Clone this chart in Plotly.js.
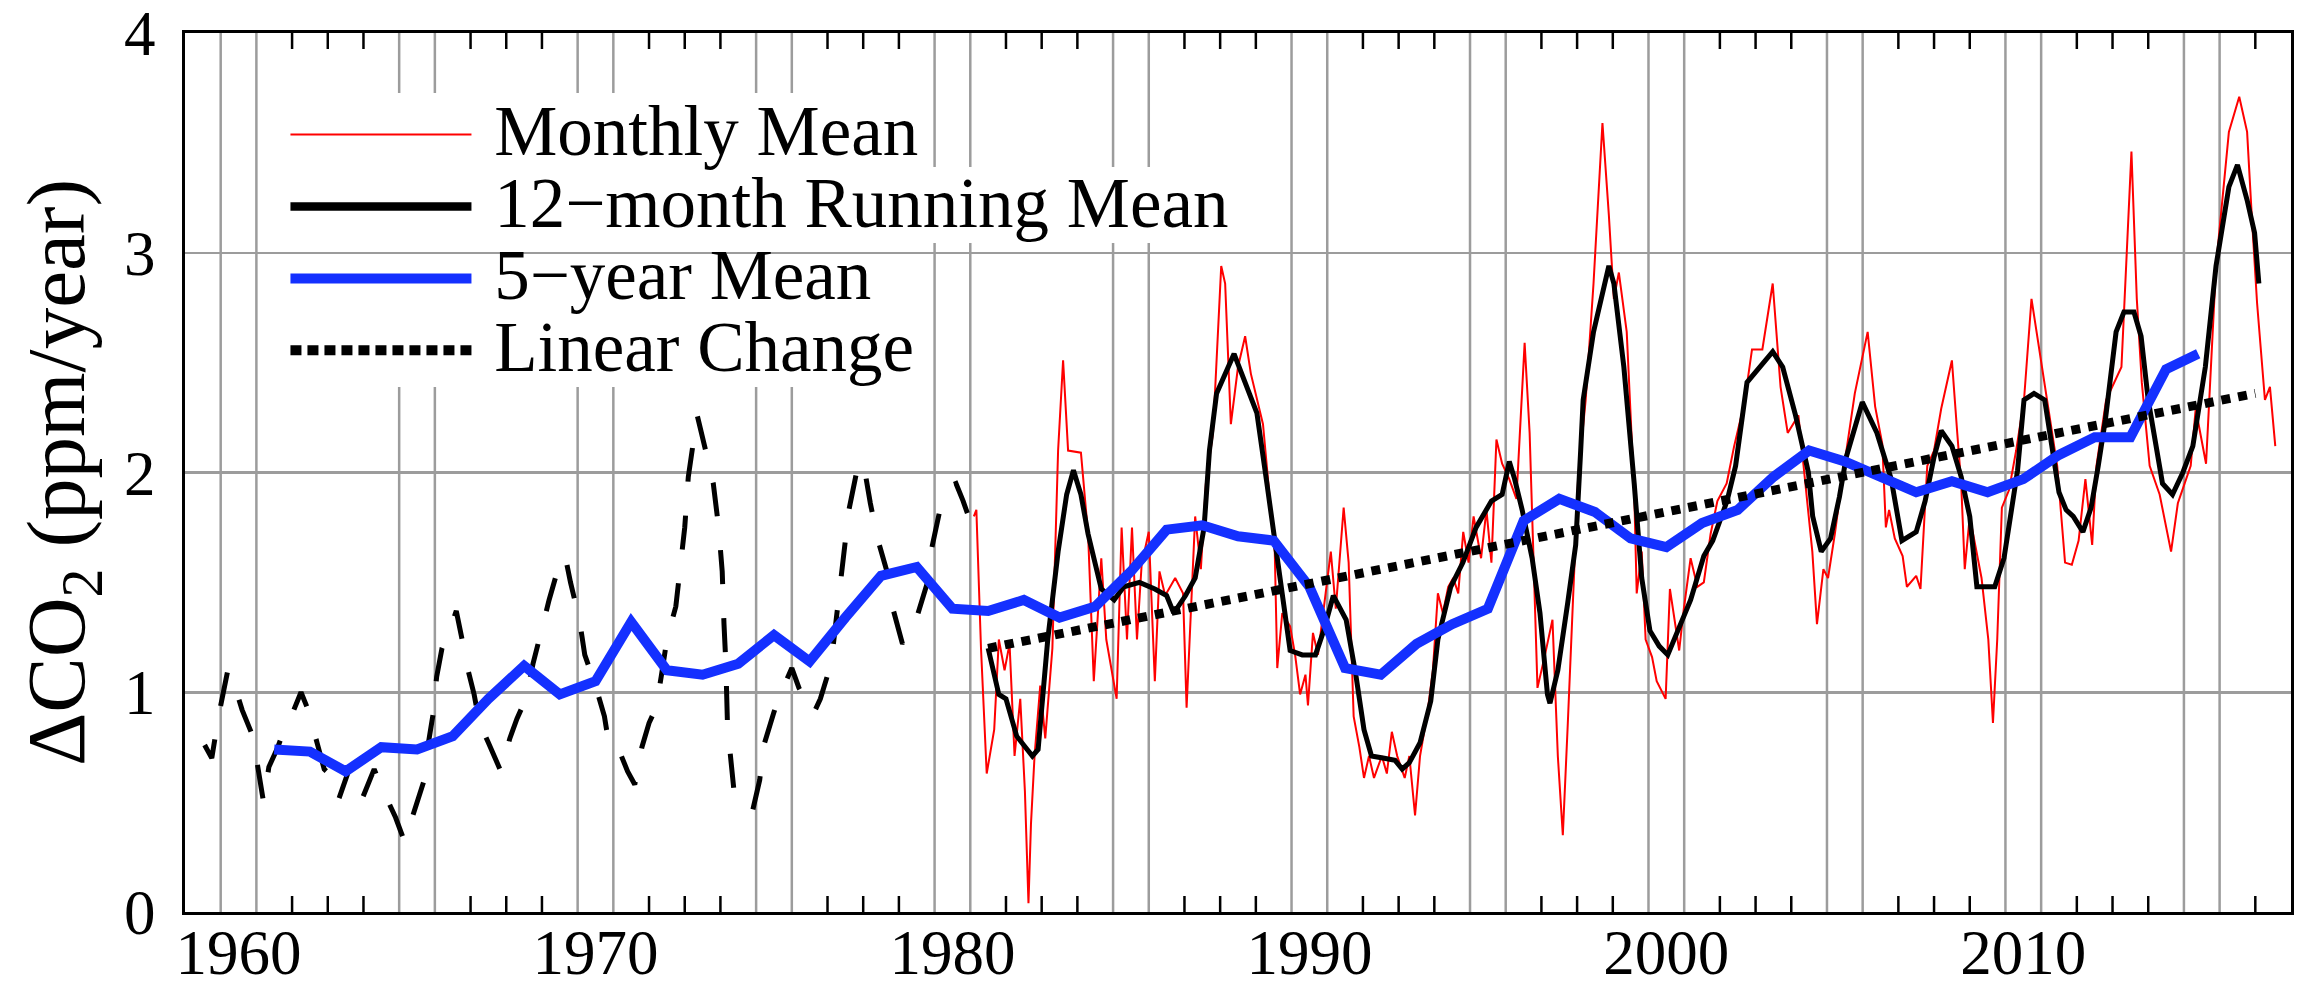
<!DOCTYPE html>
<html>
<head>
<meta charset="utf-8">
<script src="https://cdn.plot.ly/plotly-3.0.1.min.js"></script>
<style>
  html, body { margin: 0; padding: 0; background: #ffffff; }
  #chart { width: 2305px; height: 983px; }
</style>
</head>
<body>
<div id="chart"></div>
<script>
// Mauna Loa 12-month running mean of the annual CO2 increase (before 1981), ppm/year
const mloYears = [1959.55, 1959.75, 1959.95, 1960.2, 1960.35, 1960.6, 1960.9, 1961.1, 1961.2, 1961.35,
  1961.6, 1961.8, 1962.0, 1962.25, 1962.45, 1962.7, 1962.9, 1963.1, 1963.3, 1963.6, 1963.8, 1963.95,
  1964.3, 1964.5, 1964.9, 1965.15, 1965.4, 1965.7, 1965.8, 1965.95, 1966.05, 1966.2, 1966.45, 1966.6,
  1966.75, 1966.9, 1967.1, 1967.25, 1967.5, 1967.85, 1968.1, 1968.3, 1968.55, 1968.75, 1969.0, 1969.2,
  1969.5, 1969.65, 1969.8, 1970.05, 1970.2, 1970.5, 1970.75, 1970.9, 1971.2, 1971.4, 1971.6, 1971.8,
  1972.0, 1972.2, 1972.35, 1972.5, 1972.75, 1972.85, 1973.0, 1973.1, 1973.35, 1973.6, 1973.8, 1973.95,
  1974.05, 1974.1, 1974.15, 1974.2, 1974.3, 1974.4, 1974.7, 1974.9, 1975.1, 1975.2, 1975.5, 1975.7,
  1976.0, 1976.2, 1976.6, 1976.8, 1977.1, 1977.2, 1977.35, 1977.6, 1977.85, 1978.0, 1978.2, 1978.4,
  1978.7, 1978.8, 1979.1, 1979.5, 1979.8, 1979.9, 1980.15, 1980.45, 1980.6, 1980.8, 1981.1];
const mloRate = [0.76, 0.70, 0.90, 1.10, 1.05, 0.92, 0.80, 0.60, 0.50, 0.66,
  0.75, 0.84, 0.90, 1.00, 0.92, 0.77, 0.65, 0.62, 0.51, 0.65, 0.58, 0.51,
  0.65, 0.57, 0.43, 0.32, 0.44, 0.60, 0.75, 0.90, 1.07, 1.20, 1.30, 1.37,
  1.25, 1.12, 0.99, 0.86, 0.77, 0.64, 0.79, 0.88, 0.97, 1.13, 1.29, 1.42,
  1.59, 1.62, 1.50, 1.33, 1.17, 1.03, 0.89, 0.74, 0.72, 0.64, 0.58, 0.75,
  0.86, 0.93, 1.08, 1.24, 1.39, 1.52, 1.75, 1.98, 2.26, 2.09, 1.95, 1.75,
  1.55, 1.31, 1.14, 0.84, 0.69, 0.52, 0.48, 0.46, 0.60, 0.75, 0.91, 1.00,
  1.11, 1.02, 0.90, 0.97, 1.13, 1.28, 1.50, 1.83, 2.03, 2.05, 1.86, 1.70,
  1.53, 1.40, 1.22, 1.34, 1.50, 1.64, 1.83, 1.94, 1.95, 1.87, 1.73];

// Global monthly mean annual increase, ppm/year
const monthlyYears = [1981.10, 1981.17, 1981.30, 1981.46, 1981.67, 1981.80, 1981.96, 1982.10, 1982.24, 1982.40,
  1982.53, 1982.63, 1982.70, 1982.80, 1982.96, 1983.10, 1983.30, 1983.46, 1983.60, 1983.74,
  1984.10, 1984.30, 1984.46, 1984.67, 1984.81, 1985.10, 1985.24, 1985.39, 1985.53, 1985.67,
  1985.80, 1986.00, 1986.17, 1986.30, 1986.46, 1986.74, 1986.96, 1987.06, 1987.17, 1987.30,
  1987.46, 1987.60, 1987.80, 1988.03, 1988.14, 1988.30, 1988.50, 1988.70, 1988.86, 1989.20,
  1989.39, 1989.53, 1989.60, 1989.74, 1989.96, 1990.10, 1990.24, 1990.39, 1990.46, 1990.60,
  1990.74, 1990.96, 1991.10, 1991.24, 1991.46, 1991.60, 1991.74, 1991.90, 1992.03, 1992.17,
  1992.31, 1992.53, 1992.67, 1992.81, 1992.96, 1993.17, 1993.30, 1993.46, 1993.60, 1993.81,
  1993.96, 1994.10, 1994.24, 1994.39, 1994.53, 1994.67, 1994.81, 1994.96, 1995.10, 1995.31,
  1995.46, 1995.60, 1995.74, 1995.90, 1996.10, 1996.30, 1996.53, 1996.67, 1996.74, 1996.89,
  1997.10, 1997.31, 1997.46, 1997.60, 1997.74, 1997.89, 1998.03, 1998.24, 1998.46, 1998.71,
  1998.89, 1999.03, 1999.17, 1999.39, 1999.60, 1999.67, 1999.81, 1999.92, 2000.10, 2000.23,
  2000.48, 2000.60, 2000.73, 2000.86, 2000.99, 2001.18, 2001.37, 2001.55, 2001.74, 2001.93,
  2002.19, 2002.40, 2002.69, 2002.90, 2003.19, 2003.48, 2003.70, 2003.90, 2004.20, 2004.34,
  2004.59, 2004.72, 2004.90, 2005.03, 2005.22, 2005.41, 2005.60, 2005.78, 2006.14, 2006.35,
  2006.55, 2006.65, 2006.74, 2006.90, 2007.12, 2007.24, 2007.50, 2007.62, 2007.81, 2008.00,
  2008.20, 2008.50, 2008.65, 2008.76, 2008.86, 2009.00, 2009.33, 2009.52, 2009.65, 2009.77,
  2009.90, 2010.10, 2010.30, 2010.52, 2010.73, 2010.95, 2011.24, 2011.45, 2011.67, 2011.86,
  2012.05, 2012.24, 2012.43, 2012.55, 2012.82, 2013.25, 2013.53, 2013.68, 2013.82, 2014.04,
  2014.32, 2014.51, 2014.64, 2014.83, 2015.02, 2015.19, 2015.33, 2015.62, 2015.90, 2016.26,
  2016.55, 2016.77, 2016.90, 2017.05, 2017.27, 2017.41, 2017.56];
const monthlyRate = [1.80, 1.83, 1.20, 0.63, 0.83, 1.24, 1.10, 1.22, 0.71, 0.97,
  0.55, 0.04, 0.40, 0.71, 1.03, 0.79, 1.20, 2.10, 2.51, 2.10,
  2.09, 1.72, 1.05, 1.61, 1.24, 0.97, 1.75, 1.24, 1.75, 1.24,
  1.58, 1.73, 1.05, 1.55, 1.44, 1.52, 1.45, 0.93, 1.33, 1.80,
  1.56, 1.95, 2.18, 2.94, 2.86, 2.22, 2.48, 2.62, 2.45, 2.22,
  1.88, 1.64, 1.11, 1.36, 1.30, 1.17, 0.99, 1.08, 0.94, 1.27,
  1.17, 1.45, 1.64, 1.38, 1.84, 1.59, 0.89, 0.75, 0.61, 0.71,
  0.61, 0.71, 0.63, 0.82, 0.71, 0.61, 0.71, 0.44, 0.71, 0.91,
  1.10, 1.45, 1.36, 1.48, 1.52, 1.45, 1.73, 1.59, 1.80, 1.61,
  1.83, 1.59, 2.15, 2.04, 1.97, 1.88, 2.59, 2.18, 1.80, 1.02,
  1.17, 1.33, 0.71, 0.35, 0.86, 1.48, 1.98, 2.33, 2.86, 3.59,
  3.17, 2.79, 2.91, 2.64, 1.91, 1.45, 1.64, 1.24, 1.16, 1.05,
  0.97, 1.47, 1.33, 1.19, 1.38, 1.61, 1.48, 1.50, 1.72, 1.87,
  1.95, 2.12, 2.32, 2.56, 2.56, 2.86, 2.39, 2.18, 2.26, 2.03,
  1.64, 1.31, 1.56, 1.52, 1.72, 1.95, 2.15, 2.36, 2.64, 2.30,
  2.13, 1.75, 1.83, 1.70, 1.62, 1.48, 1.53, 1.47, 2.03, 2.10,
  2.29, 2.51, 2.18, 1.95, 1.56, 1.80, 1.52, 1.24, 0.86, 1.24,
  1.84, 1.92, 2.10, 2.33, 2.79, 2.56, 2.26, 2.03, 1.59, 1.58,
  1.69, 1.97, 1.67, 2.03, 2.33, 2.48, 3.46, 2.79, 2.41, 2.03,
  1.90, 1.75, 1.64, 1.86, 1.95, 2.03, 2.29, 2.04, 2.94, 3.55,
  3.71, 3.55, 3.17, 2.77, 2.33, 2.39, 2.12];

// 12-month running mean of the global series
const runningYears = [1981.50, 1981.80, 1982.00, 1982.30, 1982.74, 1982.90, 1983.17, 1983.46, 1983.70, 1983.89,
  1984.10, 1984.30, 1984.67, 1985.03, 1985.30, 1985.74, 1986.17, 1986.50, 1986.70, 1987.03,
  1987.30, 1987.55, 1987.70, 1987.90, 1988.39, 1988.67, 1989.03, 1989.31, 1989.50, 1989.74,
  1989.96, 1990.30, 1990.67, 1990.90, 1991.17, 1991.53, 1991.80, 1992.03, 1992.24, 1992.60,
  1992.90, 1993.10, 1993.30, 1993.60, 1993.90, 1994.10, 1994.46, 1994.80, 1995.17, 1995.60,
  1995.90, 1996.10, 1996.25, 1996.46, 1996.74, 1996.96, 1997.17, 1997.24, 1997.46, 1997.74,
  1997.96, 1998.10, 1998.17, 1998.46, 1998.89, 1999.03, 1999.31, 1999.60, 1999.81, 2000.04,
  2000.30, 2000.54, 2000.86, 2001.18, 2001.55, 2001.80, 2002.20, 2002.44, 2002.76, 2003.48,
  2003.76, 2004.12, 2004.48, 2004.60, 2004.84, 2005.10, 2005.35, 2005.54, 2005.99, 2006.40,
  2006.80, 2007.10, 2007.50, 2007.75, 2008.00, 2008.20, 2008.50, 2008.76, 2009.00, 2009.20,
  2009.40, 2009.70, 2009.96, 2010.15, 2010.34, 2010.52, 2010.80, 2011.10, 2011.30, 2011.50,
  2011.70, 2011.90, 2012.17, 2012.40, 2012.60, 2012.80, 2013.10, 2013.32, 2013.60, 2013.80,
  2014.00, 2014.40, 2014.68, 2014.97, 2015.25, 2015.60, 2015.90, 2016.26, 2016.50, 2016.77,
  2016.98, 2017.10];
const runningRate = [1.20, 0.99, 0.97, 0.80, 0.71, 0.74, 1.24, 1.64, 1.90, 2.01,
  1.90, 1.72, 1.47, 1.42, 1.48, 1.50, 1.47, 1.44, 1.36, 1.44,
  1.52, 1.75, 2.10, 2.36, 2.54, 2.42, 2.27, 1.95, 1.72, 1.45,
  1.19, 1.17, 1.17, 1.28, 1.44, 1.33, 1.08, 0.83, 0.71, 0.70,
  0.69, 0.65, 0.68, 0.77, 0.96, 1.24, 1.48, 1.59, 1.75, 1.87,
  1.90, 2.05, 1.97, 1.83, 1.61, 1.36, 0.99, 0.95, 1.10, 1.41,
  1.67, 2.10, 2.33, 2.64, 2.94, 2.86, 2.48, 1.95, 1.52, 1.28,
  1.21, 1.17, 1.30, 1.42, 1.62, 1.69, 1.87, 2.03, 2.41, 2.55,
  2.48, 2.26, 2.00, 1.80, 1.64, 1.70, 1.89, 2.07, 2.32, 2.18,
  1.97, 1.69, 1.73, 1.87, 2.07, 2.19, 2.12, 1.98, 1.80, 1.48,
  1.48, 1.48, 1.61, 1.80, 2.01, 2.33, 2.36, 2.33, 2.13, 1.91,
  1.83, 1.80, 1.73, 1.84, 2.03, 2.24, 2.64, 2.73, 2.73, 2.62,
  2.33, 1.95, 1.90, 2.00, 2.12, 2.48, 2.94, 3.30, 3.40, 3.24,
  3.09, 2.86];

// 5-year mean, one value per year
const fiveYearYears = [1961.5, 1962.5, 1963.5, 1964.5, 1965.5, 1966.5, 1967.5, 1968.5, 1969.5, 1970.5,
  1971.5, 1972.5, 1973.5, 1974.5, 1975.5, 1976.5, 1977.5, 1978.5, 1979.5, 1980.5,
  1981.5, 1982.5, 1983.5, 1984.5, 1985.5, 1986.5, 1987.5, 1988.5, 1989.5, 1990.5,
  1991.5, 1992.5, 1993.5, 1994.5, 1995.5, 1996.5, 1997.5, 1998.5, 1999.5, 2000.5,
  2001.5, 2002.5, 2003.5, 2004.5, 2005.5, 2006.5, 2007.5, 2008.5, 2009.5, 2010.5,
  2011.5, 2012.5, 2013.5, 2014.5, 2015.4];
const fiveYearRate = [0.74, 0.73, 0.64, 0.75, 0.74, 0.80, 0.97, 1.12, 0.99, 1.05,
  1.32, 1.10, 1.08, 1.13, 1.26, 1.14, 1.34, 1.53, 1.57, 1.38,
  1.37, 1.42, 1.34, 1.39, 1.55, 1.74, 1.76, 1.71, 1.69, 1.48,
  1.11, 1.08, 1.22, 1.31, 1.38, 1.78, 1.88, 1.82, 1.70, 1.66,
  1.77, 1.83, 1.98, 2.10, 2.05, 1.98, 1.91, 1.96, 1.91, 1.97,
  2.08, 2.16, 2.16, 2.47, 2.54];

// Linear change across the global record
const linearYears = [1981.5, 2017.0];
const linearRate = [1.20, 2.36];

// Axis furniture
const labelYears = [1960.5, 1970.5, 1980.5, 1990.5, 2000.5, 2010.5];
const labelText = ['1960', '1970', '1980', '1990', '2000', '2010'];
const gridYears = [1960, 1961, 1965, 1966, 1970, 1971, 1975, 1976, 1980, 1981,
  1985, 1986, 1990, 1991, 1995, 1996, 2000, 2001, 2005, 2006, 2010, 2011, 2015, 2016];
const yTicks = [0, 1, 2, 3, 4];
const legendNames = ['Monthly Mean', '12\u2212month Running Mean', '5\u2212year Mean', 'Linear Change'];

// year ticks everywhere except where a grid line already marks the year
const tickYears = [];
for (let yr = 1960; yr <= 2017; yr++) {
  if (gridYears.indexOf(yr) < 0) tickYears.push(yr);
}

const SERIF = 'Liberation Serif, Times New Roman, serif';
const GRID = '#9c9c9c';
const MARGIN = { l: 185, r: 14, t: 33, b: 71, pad: 0 };
const HEIGHT = 983;
const TICK_FRAC = 16 / (HEIGHT - MARGIN.t - MARGIN.b);   // 16 px year ticks, in plot-height units
const legendLabel = (s) => '<span style="font-size:71px">\u00a0' + s + '</span>';

const traces = [
  { x: mloYears, y: mloRate, type: 'scatter', mode: 'lines', showlegend: false,
    line: { color: '#000000', width: 5, dash: '34px,34px' }, hoverinfo: 'skip' },
  { x: monthlyYears, y: monthlyRate, type: 'scatter', mode: 'lines', name: legendLabel(legendNames[0]),
    line: { color: '#ff0000', width: 2 }, hoverinfo: 'skip' },
  { x: runningYears, y: runningRate, type: 'scatter', mode: 'lines', showlegend: false,
    line: { color: '#000000', width: 5 }, hoverinfo: 'skip' },
  { x: fiveYearYears, y: fiveYearRate, type: 'scatter', mode: 'lines', showlegend: false,
    line: { color: '#1430ff', width: 10 }, hoverinfo: 'skip' },
  { x: linearYears, y: linearRate, type: 'scatter', mode: 'lines', showlegend: false,
    line: { color: '#000000', width: 9, dash: '9px,8px' }, hoverinfo: 'skip' },
  // legend keys drawn a little heavier than the curves
  { x: [null], y: [null], type: 'scatter', mode: 'lines', name: legendLabel(legendNames[1]),
    line: { color: '#000000', width: 8.7 } },
  { x: [null], y: [null], type: 'scatter', mode: 'lines', name: legendLabel(legendNames[2]),
    line: { color: '#1430ff', width: 13.7 } },
  { x: [null], y: [null], type: 'scatter', mode: 'lines', name: legendLabel(legendNames[3]),
    line: { color: '#000000', width: 13, dash: '11px,6px' } }
];

// paired grid lines every five years (between grid and data)
const gridShapes = gridYears.map((g) => ({
  type: 'line', xref: 'x', yref: 'paper', x0: g, x1: g, y0: 0, y1: 1,
  line: { color: GRID, width: 2.5 }, layer: 'between'
}));

// white boxes behind the legend rows (they hide the grid, not the data)
const rowBox = (x1, y0, y1) => ({
  type: 'rect', xref: 'paper', yref: 'paper', x0: 0.041, x1: x1, y0: y0, y1: y1,
  fillcolor: '#ffffff', line: { width: 0 }, layer: 'between'
});

// inward year ticks along the bottom and top edges
const tickShapes = [];
tickYears.forEach((t) => {
  tickShapes.push({ type: 'line', xref: 'x', yref: 'paper', x0: t, x1: t, y0: 0, y1: TICK_FRAC,
    line: { color: '#000000', width: 2.5 }, layer: 'above' });
  tickShapes.push({ type: 'line', xref: 'x', yref: 'paper', x0: t, x1: t, y0: 1 - TICK_FRAC, y1: 1,
    line: { color: '#000000', width: 2.5 }, layer: 'above' });
});

const layout = {
  width: 2305, height: HEIGHT, autosize: false,
  margin: MARGIN,
  paper_bgcolor: '#ffffff', plot_bgcolor: '#ffffff',
  font: { family: SERIF, color: '#000000', size: 63 },
  showlegend: true,
  xaxis: {
    range: [1959, 2018], fixedrange: true,
    tickmode: 'array', tickvals: labelYears, ticktext: labelText, ticks: '',
    showgrid: false, zeroline: false,
    tickfont: { family: SERIF, size: 63, color: '#000000' },
    ticklabelstandoff: -17, ticklabeloverflow: 'allow',
    showline: true, linecolor: '#000000', linewidth: 3, mirror: true
  },
  yaxis: {
    range: [0, 4], fixedrange: true,
    tickmode: 'array', tickvals: yTicks, ticks: '',
    showgrid: true, gridcolor: GRID, gridwidth: 2.5, zeroline: false,
    showline: true, linecolor: '#000000', linewidth: 3, mirror: true,
    tickfont: { family: SERIF, size: 63, color: '#000000' },
    ticklabelstandoff: 14, ticklabeloverflow: 'allow',
    title: { text: '\u0394CO<sub>2</sub> (ppm/year)', font: { family: SERIF, size: 83, color: '#000000' }, standoff: 12 }
  },
  legend: {
    x: 0.0477, y: 0.931, xanchor: 'left', yanchor: 'top',
    bgcolor: 'rgba(0,0,0,0)', borderwidth: 0,
    font: { family: SERIF, size: 53, color: '#000000' },
    itemwidth: 181, tracegroupgap: 0, traceorder: 'normal'
  },
  shapes: gridShapes.concat([
    rowBox(0.3501, 0.8476, 0.9317),
    rowBox(0.4972, 0.7611, 0.8476),
    rowBox(0.3292, 0.6769, 0.7611),
    rowBox(0.3477, 0.5973, 0.6769)
  ], tickShapes)
};

Plotly.newPlot('chart', traces, layout, { staticPlot: true, displayModeBar: false });
</script>
</body>
</html>
